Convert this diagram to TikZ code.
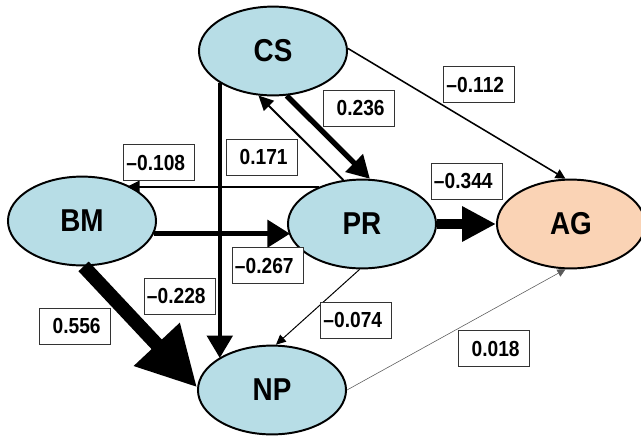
\documentclass[tikz,border=0pt]{standalone}
\usepackage{fontspec}
\setmainfont{Liberation Sans}[FakeStretch=0.88]
\usetikzlibrary{arrows.meta,shapes.geometric}
\definecolor{varblue}{RGB}{183,221,230}
\definecolor{varpeach}{RGB}{250,211,181}
\tikzset{
	var/.style={ellipse,draw,line width=1.4pt,fill=varblue,minimum width=3.7cm,minimum height=2.22cm,inner sep=0pt,font=\fontsize{22.5}{25}\selectfont\bfseries},
	coef/.style={draw=black!80,line width=0.6pt,fill=white,text width=1.625cm,inner xsep=0.075cm,minimum height=0.9cm,align=left,font=\fontsize{15.5}{17}\selectfont\bfseries},
	link/.style n args={3}{line width=#1,-{Triangle[length=#2,width=#3]}}
}
\begin{document}
\begin{tikzpicture}[x=0.025cm,y=-0.025cm]
	\useasboundingbox (0,0) rectangle (641,436);
	\node[var] (CS) at (273,51) {CS};
	\node[var] (BM) at (82,221) {BM};
	\node[var] (PR) at (362,224) {PR};
	\node[var,fill=varpeach] (AG) at (571,224) {AG};
	\node[var] (NP) at (272,390) {NP};
	\draw[link={1.1pt}{7pt}{7pt}] (CS.2) -- (AG.97);
	\draw[link={3.8pt}{16pt}{17pt}] (CS.-73) -- (PR.80);
	\draw[link={1.4pt}{10.5pt}{10pt}] (PR.113) -- (CS.-108);
	\draw[link={1.4pt}{9pt}{8.5pt}] (PR.139) -- (PR.139 -| BM.39);
	\draw[link={3.2pt}{16pt}{18pt}] (CS.-149) -- (CS.-149 |- NP.149);
	\draw[link={3.4pt}{16pt}{19pt}] (BM.-10) -- (BM.-10 -| PR.-170);
	\draw[link={7pt}{24pt}{23.5pt}] (PR.east) -- (AG.west);
	\draw[link={10pt}{42pt}{42pt}] (BM.-88) -- (NP.178);
	\draw[link={0.7pt}{7pt}{6.5pt}] (PR.-93) -- (NP.85);
	\draw[link={0.4pt}{5.7pt}{5.7pt},black!65] (NP.east) -- (AG.-97);
	\foreach \nm/\px/\py/\val in {kCSAG/479/84.5/–0.112, kCSPR/358.5/108.5/\phantom{–}0.236, kPRCS/261.5/157/\phantom{–}0.171, kPRBM/159/162.5/–0.108, kPRAG/466.5/181/–0.344, kBMPR/267.5/265.5/–0.267, kCSNP/179.5/296/–0.228, kBMNP/74.5/326/\phantom{–}0.556, kPRNP/356/320/–0.074, kNPAG/493.5/348.5/\phantom{–}0.018}
	{
		\node[coef] (\nm) at (\px,\py) {\val};
	}
\end{tikzpicture}
\end{document}
